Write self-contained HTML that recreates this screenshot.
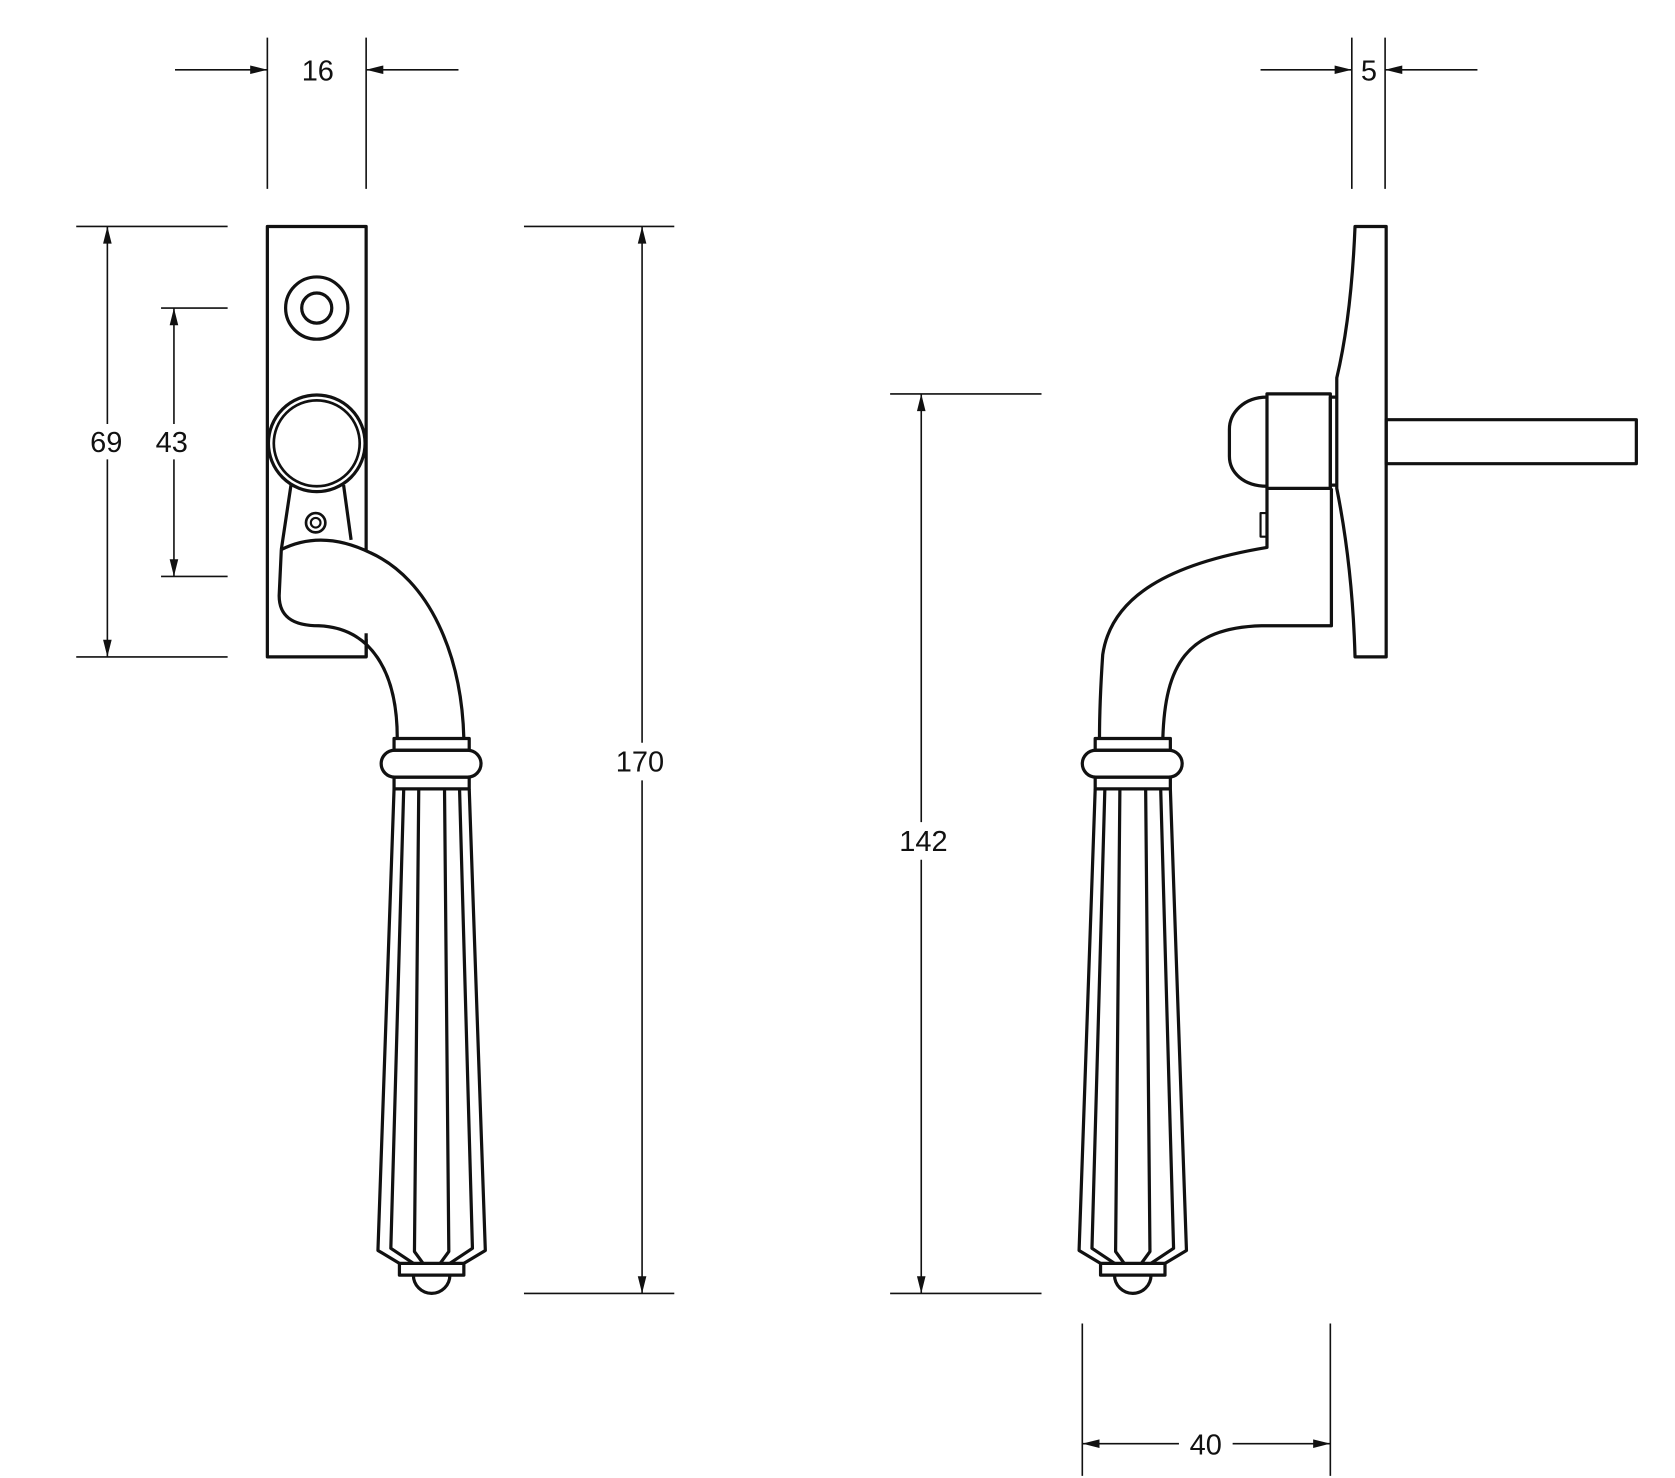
<!DOCTYPE html>
<html><head><meta charset="utf-8"><style>
html,body{margin:0;padding:0;background:#fff;}
svg{display:block;}
text{font-family:"Liberation Sans",sans-serif;font-size:27px;fill:#111;}
</style></head><body>
<svg width="1675" height="1478" viewBox="0 0 1560 1377" preserveAspectRatio="none" xmlns="http://www.w3.org/2000/svg">
<defs>
<g id="grip" fill="none" stroke="#111" stroke-width="3" stroke-linejoin="round">
  <rect x="367" y="688" width="70" height="11"/>
  <rect x="355" y="699" width="93" height="25" rx="12.5"/>
  <rect x="367" y="724" width="70" height="11"/>
  <path d="M367,735 L352,1165 L372,1177 M437,735 L452,1165 L432,1177"/>
  <path d="M376,735 L364,1163 L385,1177 M390,735 L386,1166 L394,1177 M414,735 L418,1166 L410,1177 M428,735 L440,1163 L419,1177"/>
  <rect x="372" y="1177" width="60" height="11"/>
  <path d="M385,1188 A17,17 0 0 0 419,1188"/>
</g>
</defs>

<g fill="none" stroke="#111" stroke-width="1.5">
  <!-- 16 -->
  <path d="M249,35V176 M341,35V176 M163,65H249 M427,65H341"/>
  <!-- 69 / 43 -->
  <path d="M71,211H212 M71,612H212 M100,211V395 M100,428V612"/>
  <path d="M150,287H212 M150,537H212 M162,287V395 M162,428V537"/>
  <!-- 170 -->
  <path d="M488,211H628 M488,1205H628 M598,211V692 M598,727V1205"/>
  <!-- 5 -->
  <path d="M1259,35V176 M1290,35V176 M1174,65H1259 M1376,65H1290"/>
  <!-- 142 -->
  <path d="M829,367H970 M829,1205H970 M858,367V766 M858,801V1205"/>
  <!-- 40 -->
  <path d="M1008,1233V1375 M1239,1233V1375 M1008,1345H1098 M1148,1345H1239"/>
</g>
<g fill="#111">
  <path d="M249,65l-16,-4v8z M341,65l16,-4v8z"/>
  <path d="M100,211l-4,16h8z M100,612l-4,-16h8z M162,287l-4,16h8z M162,537l-4,-16h8z"/>
  <path d="M598,211l-4,16h8z M598,1205l-4,-16h8z"/>
  <path d="M1259,65l-16,-4v8z M1290,65l16,-4v8z"/>
  <path d="M858,367l-4,16h8z M858,1205l-4,-16h8z"/>
  <path d="M1008,1345l16,-4v8z M1239,1345l-16,-4v8z"/>
</g>
<g text-anchor="middle">
  <text x="296" y="75">16</text>
  <text x="99" y="421">69</text>
  <text x="160" y="421">43</text>
  <text x="596" y="719">170</text>
  <text x="1275" y="75">5</text>
  <text x="860" y="793">142</text>
  <text x="1123" y="1355">40</text>
</g>

<!-- Left view -->
<g fill="none" stroke="#111" stroke-width="3" stroke-linejoin="round">
  <rect x="249" y="211" width="92" height="401"/>
  <circle cx="295" cy="287" r="29"/>
  <circle cx="295" cy="287" r="14"/>
  <circle cx="295" cy="413" r="45"/>
  <circle cx="295" cy="413" r="40" stroke-width="2.5"/>
  <path d="M271,452 L262,512 M320,452 L327,503"/>
  <circle cx="294" cy="487" r="9" stroke-width="2.5"/>
  <circle cx="294" cy="487" r="4.5" stroke-width="2"/>
  <path d="M262,512 Q300,493 345,515 C400,540 430,610 432,688" fill="#fff"/>
  <path d="M262,512 L260,555 C260,578 278,583 297,583 C345,585 370,625 370,688" fill="none"/>
  <path d="M341,590 V612" />
</g>
<use href="#grip"/>

<!-- Right view -->
<g fill="none" stroke="#111" stroke-width="3" stroke-linejoin="round">
  <path d="M1262,211 H1291 V612 H1262 C1260,540 1252,490 1245,455 V352 C1255,310 1260,260 1262,211 Z"/>
  <rect x="1291" y="391" width="233" height="41"/>
  <rect x="1180" y="367" width="59" height="88"/>
  <path d="M1239,370 H1245 M1239,452 H1245 M1239,370 V455"/>
  <path d="M1180,370 C1158,370 1145,385 1145,400 V425 C1145,440 1158,453 1180,453"/>
  <path d="M1180,455 V510 C1090,525 1035,555 1027,610 C1025,640 1024,670 1024,688"/>
  <path d="M1240,455 V583 H1175 C1105,585 1085,620 1083,688"/>
  <rect x="1174" y="478" width="6" height="22" stroke-width="2"/>
</g>
<use href="#grip" transform="translate(653,0)"/>
</svg>
</body></html>
